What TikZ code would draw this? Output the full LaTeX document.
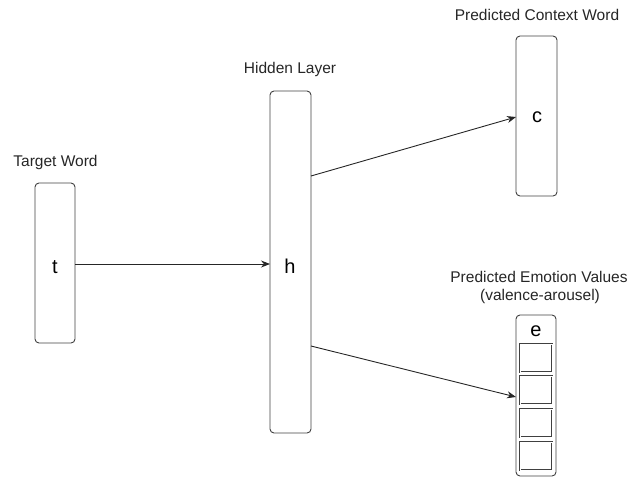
\documentclass[tikz,border=0pt]{standalone}
\usepackage{fontspec}
\setmainfont{Liberation Sans}
\usetikzlibrary{arrows.meta}
\begin{document}
\begin{tikzpicture}[x=1pt,y=-1pt,
  layerbox/.style={draw=black!75,line width=0.9pt,rounded corners=4pt},
  cellbox/.style={draw=black!75,line width=0.9pt,double=white,double distance=0.8pt},
  lbl/.style={font=\fontsize{15.5}{17}\selectfont,text=black!85,inner sep=0pt},
  sym/.style={font=\fontsize{20}{22}\selectfont,inner sep=0pt},
  conn/.style={draw=black!85,line width=0.9pt,-{Stealth[length=9pt,width=7pt]}}]
\useasboundingbox (0,0) rectangle (634,479);
% boxes
\draw[layerbox] (35,183) rectangle (75,343);
\coordinate (tE) at (75,264);
\node[sym] (t) at (55,267) {t};
\node[lbl] (tl) at (55.5,162) {Target Word};

\draw[layerbox] (270,91) rectangle (311,433);
\node[sym] (h) at (290,266) {h};
\node[lbl] (hl) at (290,69) {Hidden Layer};
\coordinate (hW) at (270,264);
\coordinate (hE1) at (311,176);
\coordinate (hE2) at (311,346);

\draw[layerbox] (516,36) rectangle (557,196);
\node[sym] (c) at (537,117) {c};
\node[lbl] (cl) at (537,15) {Predicted Context Word};
\coordinate (cW) at (516,117);

\draw[layerbox] (516,315) rectangle (556,476);
\node[sym] (e) at (536,331) {e};
\node[lbl] (el1) at (539,277) {Predicted Emotion Values};
\node[lbl] (el2) at (540,296) {(valence-arousel)};
\draw[cellbox] (520,344) rectangle (552,372);
\draw[cellbox] (520,376) rectangle (552,404);
\draw[cellbox] (520,409) rectangle (552,437);
\draw[cellbox] (520,442) rectangle (552,470);
\coordinate (eW) at (516,397);

% connectors
\draw[conn] (tE) -- (hW);
\draw[conn] (hE1) -- (cW);
\draw[conn] (hE2) -- (eW);
\end{tikzpicture}
\end{document}
